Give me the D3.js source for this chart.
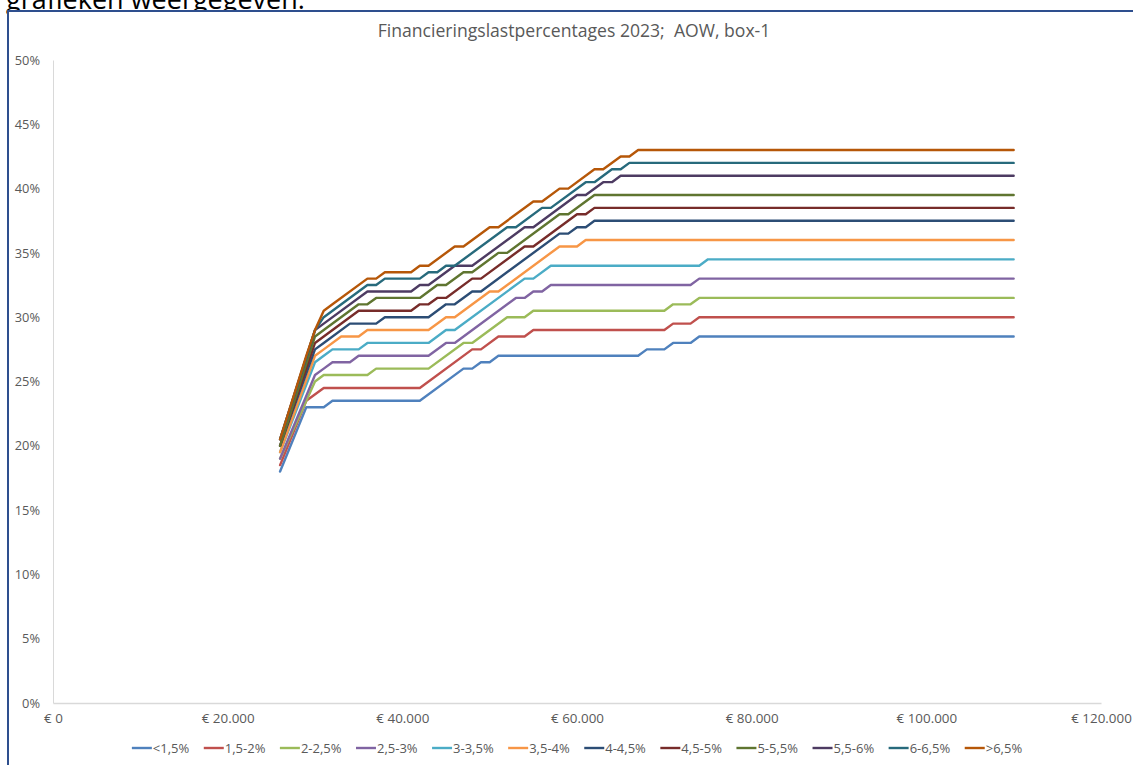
<!DOCTYPE html>
<html><head><meta charset="utf-8">
<script src="https://cdn.jsdelivr.net/npm/d3@7"></script>
<style>body{margin:0;background:#fff;overflow:hidden}svg{display:block}text{white-space:pre}</style>
</head><body>
<svg id="c" width="1133" height="765"></svg>
<script>
// ---- data (income in euro, percentage) ----
const seriesNames = ["<1,5%","1,5-2%","2-2,5%","2,5-3%","3-3,5%","3,5-4%","4-4,5%","4,5-5%","5-5,5%","5,5-6%","6-6,5%",">6,5%"];
const seriesColors = ["#4F81BD","#C0504D","#9BBB59","#8064A2","#4BACC6","#F79646","#2C4D75","#772C2A","#5F7530","#4D3B62","#276A7C","#B65708"];

const s_lt1_5 = [[26000,18],[29000,23],[31000,23],[32000,23.5],[42000,23.5],[47000,26],[48000,26],[49000,26.5],[50000,26.5],[51000,27],[67000,27],[68000,27.5],[70000,27.5],[71000,28],[73000,28],[74000,28.5],[110000,28.5]];
const s_1_5_2 = [[26000,18.5],[29000,23.5],[31000,24.5],[42000,24.5],[48000,27.5],[49000,27.5],[51000,28.5],[54000,28.5],[55000,29],[70000,29],[71000,29.5],[73000,29.5],[74000,30],[110000,30]];
const s_2_2_5 = [[26000,19],[30000,25],[31000,25.5],[36000,25.5],[37000,26],[43000,26],[47000,28],[48000,28],[52000,30],[54000,30],[55000,30.5],[70000,30.5],[71000,31],[73000,31],[74000,31.5],[110000,31.5]];
const s_2_5_3 = [[26000,19],[30000,25.5],[31000,26],[32000,26.5],[34000,26.5],[35000,27],[43000,27],[45000,28],[46000,28],[53000,31.5],[54000,31.5],[55000,32],[56000,32],[57000,32.5],[73000,32.5],[74000,33],[110000,33]];
const s_3_3_5 = [[26000,19.5],[30000,26.5],[31000,27],[32000,27.5],[35000,27.5],[36000,28],[43000,28],[45000,29],[46000,29],[54000,33],[55000,33],[57000,34],[74000,34],[75000,34.5],[110000,34.5]];
const s_3_5_4 = [[26000,19.5],[30000,27],[31000,27.5],[33000,28.5],[35000,28.5],[36000,29],[43000,29],[45000,30],[46000,30],[50000,32],[51000,32],[58000,35.5],[60000,35.5],[61000,36],[110000,36]];
const s_4_4_5 = [[26000,20],[30000,27.5],[31000,28],[34000,29.5],[37000,29.5],[38000,30],[43000,30],[45000,31],[46000,31],[48000,32],[49000,32],[58000,36.5],[59000,36.5],[60000,37],[61000,37],[62000,37.5],[110000,37.5]];
const s_4_5_5 = [[26000,20],[30000,28],[31000,28.5],[35000,30.5],[41000,30.5],[42000,31],[43000,31],[44000,31.5],[45000,31.5],[48000,33],[49000,33],[54000,35.5],[55000,35.5],[60000,38],[61000,38],[62000,38.5],[110000,38.5]];
const s_5_5_5 = [[26000,20],[30000,28.5],[31000,29],[35000,31],[36000,31],[37000,31.5],[42000,31.5],[43000,32],[44000,32.5],[45000,32.5],[47000,33.5],[48000,33.5],[51000,35],[52000,35],[58000,38],[59000,38],[62000,39.5],[110000,39.5]];
const s_5_5_6 = [[26000,20.5],[30000,29],[31000,29.5],[36000,32],[41000,32],[42000,32.5],[43000,32.5],[46000,34],[48000,34],[54000,37],[55000,37],[60000,39.5],[61000,39.5],[63000,40.5],[64000,40.5],[65000,41],[110000,41]];
const s_6_6_5 = [[26000,20.5],[30000,29],[31000,30],[36000,32.5],[37000,32.5],[38000,33],[42000,33],[43000,33.5],[44000,33.5],[45000,34],[46000,34],[52000,37],[53000,37],[56000,38.5],[57000,38.5],[61000,40.5],[62000,40.5],[64000,41.5],[65000,41.5],[66000,42],[110000,42]];
const s_gt6_5 = [[26000,20.5],[29000,27],[30000,29],[31000,30.5],[32000,31],[36000,33],[37000,33],[38000,33.5],[41000,33.5],[42000,34],[43000,34],[46000,35.5],[47000,35.5],[50000,37],[51000,37],[55000,39],[56000,39],[58000,40],[59000,40],[62000,41.5],[63000,41.5],[65000,42.5],[66000,42.5],[67000,43],[110000,43]];
const seriesData = [s_lt1_5,s_1_5_2,s_2_2_5,s_2_5_3,s_3_3_5,s_3_5_4,s_4_4_5,s_4_5_5,s_5_5_5,s_5_5_6,s_6_6_5,s_gt6_5];

const xTickValues = [0,20000,40000,60000,80000,100000,120000];
const xTickLabels = ["€ 0","€ 20.000","€ 40.000","€ 60.000","€ 80.000","€ 100.000","€ 120.000"];
const yTickValues = [0,5,10,15,20,25,30,35,40,45,50];
const yTickLabels = ["0%","5%","10%","15%","20%","25%","30%","35%","40%","45%","50%"];

const titleText = "Financieringslastpercentages 2023;  AOW, box-1";
const pageText = "grafieken weergegeven.";

// ---- drawing ----
const svg = d3.select("#c");
const FONT = "'Open Sans', sans-serif";
const TXT = "#595959";

// page text behind the chart object (cut off by the window top, as in the reference)
svg.append("text").attr("x",6).attr("y",9).attr("font-family",FONT)
  .attr("font-size",27).attr("fill","#000").text(pageText);

// chart object
svg.append("rect").attr("x",8).attr("y",11).attr("width",1140).attr("height",770)
  .attr("fill","#fff").attr("stroke","#2E4F8E").attr("stroke-width",2);

svg.append("text").attr("x",574).attr("y",37).attr("text-anchor","middle")
  .attr("font-family",FONT).attr("font-size",17.6).attr("fill",TXT).text(titleText);

const x = d3.scaleLinear().domain([0,120000]).range([53,1101]);
const y = d3.scaleLinear().domain([0,50]).range([703,60]);

// y axis
const yAxis = d3.axisLeft(y).tickValues(yTickValues)
  .tickFormat((d,i)=>yTickLabels[i]).tickSize(0).tickPadding(13);
const gy = svg.append("g").attr("transform","translate(53,0)").call(yAxis);
gy.select(".domain").attr("stroke","#D9D9D9").attr("stroke-width",1);
gy.selectAll("text").attr("font-family",FONT).attr("font-size",12.8).attr("fill",TXT);

// x axis
const xAxis = d3.axisBottom(x).tickValues(xTickValues)
  .tickFormat((d,i)=>xTickLabels[i]).tickSize(0).tickPadding(10);
const gx = svg.append("g").attr("transform","translate(0,703)").call(xAxis);
gx.select(".domain").attr("stroke","#D9D9D9").attr("stroke-width",1.5);
gx.selectAll("text").attr("font-family",FONT).attr("font-size",13.4).attr("fill",TXT);

// lines
const line = d3.line().x(d=>x(d[0])).y(d=>y(d[1]));
svg.append("g").selectAll("path").data(seriesData).join("path")
  .attr("d",line).attr("fill","none")
  .attr("stroke",(d,i)=>seriesColors[i]).attr("stroke-width",2.4)
  .attr("stroke-linejoin","round").attr("stroke-linecap","round");

// legend
const GAP = 14.5;
const lg = svg.append("g");
let cx = 0;
seriesNames.forEach((nm,i)=>{
  const it = lg.append("g").attr("transform",`translate(${cx},0)`);
  it.append("line").attr("x1",0).attr("x2",20).attr("y1",0).attr("y2",0)
    .attr("stroke",seriesColors[i]).attr("stroke-width",2.4);
  const t = it.append("text").attr("x",21).attr("y",4.6).attr("font-family",FONT)
    .attr("font-size",13).attr("fill",TXT).text(nm);
  cx += 21 + t.node().getComputedTextLength() + GAP;
});
const lw = cx - GAP;
lg.attr("transform",`translate(${577 - lw/2},748)`);
</script>
</body></html>
